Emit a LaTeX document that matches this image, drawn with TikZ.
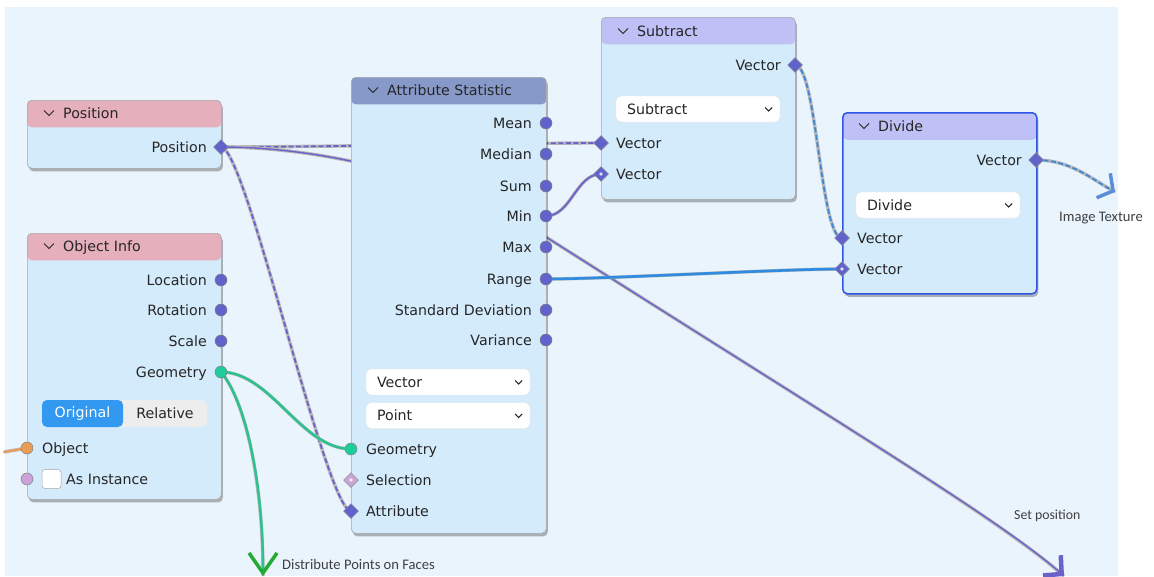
\documentclass[tikz,border=0pt]{standalone}
\usepackage{fontspec}
\setmainfont{DejaVu Sans}
\newfontfamily\notefont{Carlito}
\usetikzlibrary{shapes.geometric,arrows.meta,shadows}
\pgfdeclarelayer{bglayer}
\pgfdeclarelayer{linklayer}
\pgfsetlayers{bglayer,linklayer,main}
\definecolor{bgc}{HTML}{EAF4FD}
\definecolor{bodyc}{HTML}{D4EBFC}
\definecolor{hpink}{HTML}{E6AFBC}
\definecolor{hslate}{HTML}{8799C9}
\definecolor{hlav}{HTML}{BFC0F5}
\definecolor{sockp}{HTML}{6262CC}
\definecolor{sockg}{HTML}{1FCC9B}
\definecolor{socko}{HTML}{EB9D55}
\definecolor{sockpk}{HTML}{CCA3D6}
\definecolor{linkp}{HTML}{6A62C9}
\definecolor{linkg}{HTML}{2BC28F}
\definecolor{linkb}{HTML}{2E8BE2}
\definecolor{linkbd}{HTML}{3F88D6}
\definecolor{arrg}{HTML}{22AA33}
\definecolor{arrb}{HTML}{5A8ED8}
\definecolor{btnb}{HTML}{3399F0}
\definecolor{btng}{HTML}{EDEDED}
\definecolor{txt}{HTML}{262626}
\definecolor{selb}{HTML}{2F55E6}
\newcommand\hchev[2]{\draw[line width=1pt,txt] (#1-5,#2-2.5) -- (#1,#2+2.5) -- (#1+5,#2-2.5);}
\newcommand\ddchev[1]{\draw[line width=1.1pt,txt] ([xshift=-15pt,yshift=1.5pt]#1.east) -- ++(3.5,3.5) -- ++(3.5,-3.5);}
\begin{document}
\begin{tikzpicture}[x=1pt,y=-1pt,
  font=\fontsize{14.2}{16}\selectfont, text=txt,
  bnode/.style={fill=bodyc, draw=black!35, line width=0.6pt, rounded corners=4.5pt,
    anchor=north west, inner sep=0pt, minimum width=194pt,
    drop shadow={shadow xshift=1.5pt, shadow yshift=-3pt, opacity=0.28, fill=black},
    path picture={\fill[#1] (path picture bounding box.north west) rectangle ([yshift=-27pt]path picture bounding box.north east);}},
  ttl/.style={anchor=west, inner sep=0pt, text height=10.5pt, text depth=0pt},
  olbl/.style={anchor=east, inner sep=0pt, text height=10.5pt, text depth=0pt},
  ilbl/.style={anchor=west, inner sep=0pt, text height=10.5pt, text depth=0pt},
  sc/.style={circle, fill=#1, draw=black!50, line width=0.5pt, minimum size=12pt, inner sep=0pt},
  sd/.style={diamond, fill=#1, draw=black!45, line width=0.5pt, minimum width=15pt, minimum height=15pt, inner sep=0pt},
  sdd/.style={sd=#1, path picture={\fill[white!80!#1] (path picture bounding box.center) circle (1.8pt);}},
  dd/.style={fill=white, draw=black!12, line width=0.4pt, rounded corners=5pt, minimum width=164pt, minimum height=26pt, inner sep=0pt},
  note/.style={font=\notefont\fontsize{14.6}{16}\selectfont, text=black!75, inner sep=0pt, anchor=west},
  lk/.style={draw=#1, line width=1.8pt, line cap=round, preaction={draw=black!28, line width=3.4pt, solid, arrows=-}},
  lkd/.style={lk=#1, dash pattern=on 5pt off 2.5pt, line cap=butt}
]
\useasboundingbox (0,0) rectangle (1154,576);
\begin{pgfonlayer}{bglayer}
\fill[bgc] (5,7) rectangle (1118,576);
\end{pgfonlayer}

% ---------- Position
\node[bnode=hpink, minimum height=68pt] (posN) at (27,100) {};
\hchev{49}{113}
\node[ttl] (posT) at (63,113) {Position};
\node[olbl] (posL) at (207,147) {Position};
\node[sd=sockp] (posP) at (221,147) {};

% ---------- Object Info
\node[bnode=hpink, minimum height=266pt] (objN) at (27,233) {};
\hchev{49}{246}
\node[ttl] (objT) at (63,246) {Object Info};
\node[olbl] (objLl) at (207,280) {Location};
\node[olbl] (objRl) at (207,310) {Rotation};
\node[olbl] (objSl) at (207,341) {Scale};
\node[olbl] (objGl) at (207,372) {Geometry};
\node[sc=sockp] (objLoc) at (221,280) {};
\node[sc=sockp] (objRot) at (221,310) {};
\node[sc=sockp] (objScl) at (221,341) {};
\node[sc=sockg] (objGeo) at (221,372) {};
\node[fill=btng, rounded corners=5pt, minimum width=165pt, minimum height=27pt, inner sep=0pt,
  path picture={\fill[btnb] (path picture bounding box.north west) rectangle ([xshift=81pt]path picture bounding box.south west);}] (tog) at (124.5,413.5) {};
\node[inner sep=0pt, text=white] (togO) at (82.5,413.5) {Original};
\node[inner sep=0pt] (togR) at (165,413.5) {Relative};
\node[ilbl] (objOl) at (42,448) {Object};
\node[fill=white, draw=black!35, line width=0.5pt, rounded corners=3pt, minimum size=19pt, inner sep=0pt] (chk) at (51.5,479) {};
\node[ilbl] (objIl) at (66,479) {As Instance};
\node[sc=socko] (objObj) at (27,448) {};
\node[sc=sockpk] (objInst) at (27,479) {};

% ---------- Attribute Statistic
\node[bnode=hslate, minimum height=456pt, minimum width=195pt] (astN) at (351,77) {};
\hchev{373}{90}
\node[ttl] (astT) at (387,90) {Attribute Statistic};
\node[olbl] (astMl) at (532,123) {Mean};
\node[olbl] (astMdl) at (532,154) {Median};
\node[olbl] (astSl) at (532,186) {Sum};
\node[olbl] (astMnl) at (532,216) {Min};
\node[olbl] (astMxl) at (532,247) {Max};
\node[olbl] (astRl) at (532,279) {Range};
\node[olbl] (astSDl) at (532,310) {Standard Deviation};
\node[olbl] (astVl) at (532,340) {Variance};
\node[sc=sockp] (astMean) at (546,123) {};
\node[sc=sockp] (astMed) at (546,154) {};
\node[sc=sockp] (astSum) at (546,186) {};
\node[sc=sockp] (astMin) at (546,216) {};
\node[sc=sockp] (astMax) at (546,247) {};
\node[sc=sockp] (astRange) at (546,279) {};
\node[sc=sockp] (astSD) at (546,310) {};
\node[sc=sockp] (astVar) at (546,340) {};
\node[dd] (ddVec) at (448,382) {};
\node[ilbl] (ddVecT) at ([xshift=11pt]ddVec.west) {Vector};
\ddchev{ddVec}
\node[dd] (ddPt) at (448,415.5) {};
\node[ilbl] (ddPtT) at ([xshift=11pt]ddPt.west) {Point};
\ddchev{ddPt}
\node[ilbl] (astGl) at (366,449) {Geometry};
\node[ilbl] (astSell) at (366,480) {Selection};
\node[ilbl] (astAl) at (366,511) {Attribute};
\node[sc=sockg] (astGeo) at (351,449) {};
\node[sdd=sockpk] (astSel) at (351,480) {};
\node[sd=sockp] (astAttr) at (351,511) {};

% ---------- Subtract
\node[bnode=hlav, minimum height=182pt] (subN) at (601,17) {};
\hchev{623}{31}
\node[ttl] (subT) at (637,31) {Subtract};
\node[olbl] (subOl) at (781,65) {Vector};
\node[dd] (ddSub) at (698,109) {};
\node[ilbl] (ddSubT) at ([xshift=11pt]ddSub.west) {Subtract};
\ddchev{ddSub}
\node[ilbl] (subI1l) at (616,143) {Vector};
\node[ilbl] (subI2l) at (616,174) {Vector};
\node[sd=sockp] (subO) at (795,65) {};
\node[sd=sockp] (subI1) at (601,143) {};
\node[sdd=sockp] (subI2) at (601,174) {};

% ---------- Divide (selected)
\node[bnode=hlav, minimum height=181pt, draw=selb, line width=1.5pt] (divN) at (842,112) {};
\hchev{864}{126}
\node[ttl] (divT) at (878,126) {Divide};
\node[olbl] (divOl) at (1022,160) {Vector};
\node[dd] (ddDiv) at (938,205) {};
\node[ilbl] (ddDivT) at ([xshift=11pt]ddDiv.west) {Divide};
\ddchev{ddDiv}
\node[ilbl] (divI1l) at (857,238) {Vector};
\node[ilbl] (divI2l) at (857,269) {Vector};
\node[sd=sockp] (divO) at (1036,160) {};
\node[sd=sockp] (divI1) at (842,238) {};
\node[sdd=sockp] (divI2) at (842,269) {};

% ---------- free ends and notes
\coordinate (setpos) at (1064,576);
\coordinate (imgtex) at (1115,192);
\coordinate (distend) at (263,576);
\coordinate (objIn) at (4,452);
\node[note] (nImg) at (1059,218) {Image Texture};
\node[note, font=\notefont\fontsize{13.8}{15}\selectfont] (nSet) at (1014,516) {Set position};
\node[note] (nDist) at (282,564) {Distribute Points on Faces};

% ---------- links
\begin{pgfonlayer}{linklayer}
\draw[lkd=linkp] (posP.center) .. controls +(100,0) and +(-100,0) .. (subI1.center);
\draw[lkd=linkp] (posP.center) .. controls +(25,0) and +(-25,0) .. (astAttr.center);
\draw[lk=linkp, line width=1.4pt, -{Straight Barb[length=13pt,width=27pt,line width=4.5pt]}]
  (posP.center) .. controls (330,147) and (460,181) .. (546,237)
  .. controls (850,430) and (1000,520) .. (setpos);
\draw[lk=linkp] (astMin.center) .. controls +(25,0) and +(-25,0) .. (subI2.center);
\draw[lkd=linkbd] (subO.center) .. controls +(22,0) and +(-22,0) .. (divI1.center);
\draw[lk=linkb, line width=2.6pt] (astRange.center) .. controls +(60,0) and +(-60,0) .. (divI2.center);
\draw[lkd=linkbd, -{Straight Barb[length=11pt,width=28pt,line width=3.5pt,color=arrb]}]
  (divO.center) .. controls +(34,0) and (1090,178) .. (imgtex);
\draw[lk=linkg, line width=2.4pt] (objGeo.center) .. controls +(50,0) and +(-50,0) .. (astGeo.center);
\draw[lk=linkg, line width=2.4pt, -{Straight Barb[length=20pt,width=28pt,line width=3.5pt,color=arrg]}]
  (objGeo.center) .. controls (245,400) and (263,480) .. (distend);
\draw[lk=socko, line width=2pt] (objIn) -- (objObj.center);
\end{pgfonlayer}
\end{tikzpicture}
\end{document}
